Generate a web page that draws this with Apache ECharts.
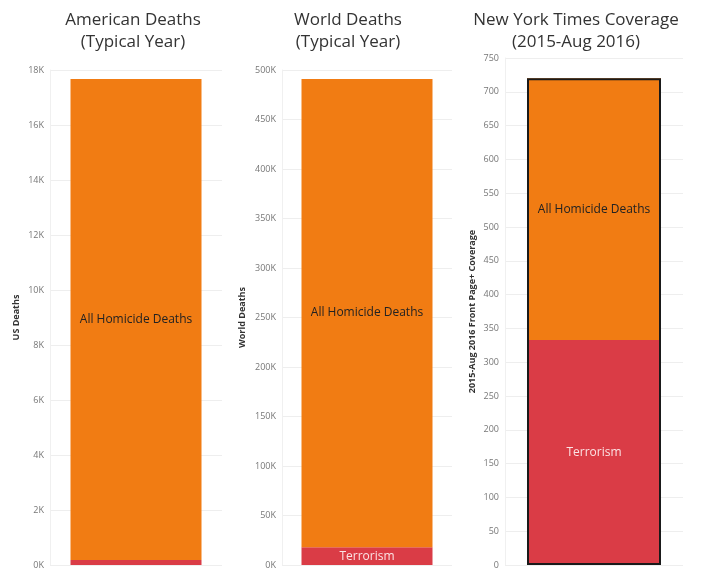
<!DOCTYPE html>
<html>
<head>
<meta charset="utf-8">
<script src="https://cdn.jsdelivr.net/npm/echarts@6/dist/echarts.min.js"></script>
<style>html,body{margin:0;padding:0;background:#fff}#c{width:719px;height:573px}</style>
</head>
<body>
<div id="c"></div>
<script>
// Data
const panelTitles = ['American Deaths\n(Typical Year)', 'World Deaths\n(Typical Year)', 'New York Times Coverage\n(2015-Aug 2016)'];
const axisNames = ['US Deaths', 'World Deaths', '2015-Aug 2016 Front Page+ Coverage'];
const homicideValues = [17490, 473000, 387];
const terrorismValues = [180, 18000, 333];
const axisMax = [18000, 500000, 750];
const axisInterval = [2000, 50000, 50];
const segmentNames = ['All Homicide Deaths', 'Terrorism'];

const ORANGE = '#f17c13', RED = '#da3c46';
const FONT = '"Open Sans", Lato, sans-serif';
const grids = [
  {left: 50, top: 70, width: 172, height: 495},
  {left: 282, top: 70, width: 170, height: 495},
  {left: 505, top: 58, width: 178, height: 507}
];
const titleX = [128, 343, 571];
const nameGaps = [29, 35, 28];
const barWidths = [131, 131, 134];

const chart = echarts.init(document.getElementById('c'), null, {renderer: 'canvas'});
const xAxis = [], yAxis = [], series = [], title = [];
for (let i = 0; i < 3; i++) {
  title.push({
    text: panelTitles[i], left: titleX[i], top: 4, textAlign: 'center',
    textStyle: {fontFamily: FONT, fontSize: 17, fontWeight: 'normal', color: '#333', lineHeight: 22}
  });
  xAxis.push({type: 'category', gridIndex: i, data: [''], axisLine: {show: false}, axisTick: {show: false}, axisLabel: {show: false}});
  yAxis.push({
    type: 'value', gridIndex: i, min: 0, max: axisMax[i], interval: axisInterval[i],
    name: axisNames[i], nameLocation: 'middle', nameGap: nameGaps[i],
    nameTextStyle: {fontFamily: FONT, fontSize: 9, fontWeight: 'bold', color: '#333'},
    axisLine: {show: true, lineStyle: {color: '#f0f0f0'}}, axisTick: {show: false},
    axisLabel: {fontFamily: FONT, fontSize: 9, color: '#777', margin: 6,
      formatter: i < 2 ? (v => (v / 1000) + 'K') : (v => String(v))},
    splitLine: {lineStyle: {color: '#eeeeee'}}
  });
  const showTerrLabel = i > 0;
  series.push({
    type: 'bar', name: segmentNames[1], xAxisIndex: i, yAxisIndex: i, stack: 's' + i,
    data: [terrorismValues[i]], barWidth: barWidths[i],
    itemStyle: {color: RED},
    label: {show: showTerrLabel, position: 'inside', formatter: segmentNames[1], color: '#fbe3e4', fontFamily: FONT, fontSize: 12},
    emphasis: {disabled: true}, animation: false
  });
  series.push({
    type: 'bar', name: segmentNames[0], xAxisIndex: i, yAxisIndex: i, stack: 's' + i,
    data: [homicideValues[i]], barWidth: barWidths[i],
    itemStyle: {color: ORANGE},
    label: {show: true, position: 'inside', formatter: segmentNames[0], color: '#222', fontFamily: FONT, fontSize: 12},
    emphasis: {disabled: true}, animation: false
  });
  if (i === 2) {
    series.push({
      type: 'bar', name: 'outline', xAxisIndex: i, yAxisIndex: i, barGap: '-100%',
      data: [homicideValues[i] + terrorismValues[i]], barWidth: barWidths[i],
      itemStyle: {color: 'rgba(0,0,0,0)', borderColor: '#1a1a1a', borderWidth: 2},
      z: 5, silent: true, emphasis: {disabled: true}, animation: false
    });
  }
}
chart.setOption({animation: false, title, grid: grids, xAxis, yAxis, series});
</script>
</body>
</html>
